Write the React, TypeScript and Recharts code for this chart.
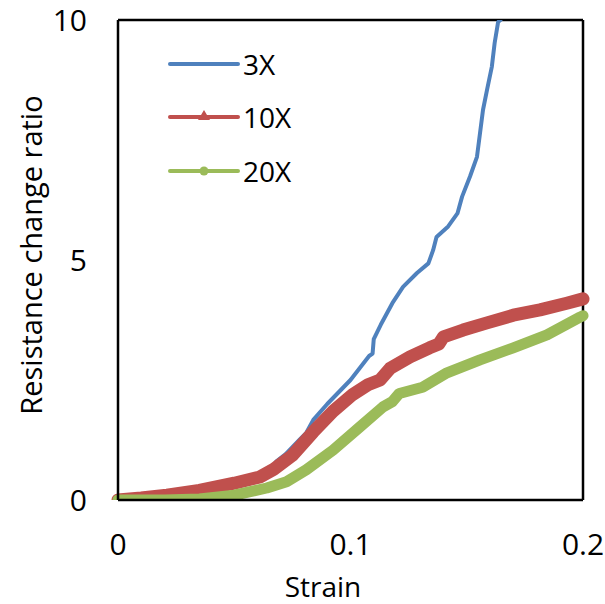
import React from 'react';
import { LineChart, Line, XAxis, YAxis, Legend, Label, ReferenceLine } from 'recharts';

// strain (x) and resistance change ratio (y) per sample
const strain3x = [0, 0.02, 0.04, 0.055, 0.065, 0.068, 0.072, 0.078, 0.081, 0.084, 0.09, 0.095, 0.1, 0.104, 0.108, 0.1095, 0.11, 0.113, 0.118, 0.1226, 0.1286, 0.1335, 0.1355, 0.137, 0.142, 0.146, 0.148, 0.1514, 0.1544, 0.1557, 0.157, 0.1587, 0.1608, 0.162, 0.1635, 0.1645];
const ratio3x = [0, 0.1, 0.25, 0.4, 0.6, 0.8, 0.95, 1.25, 1.4, 1.67, 2.0, 2.25, 2.5, 2.75, 3.0, 3.05, 3.35, 3.65, 4.1, 4.44, 4.73, 4.93, 5.2, 5.48, 5.7, 5.97, 6.32, 6.74, 7.15, 7.64, 8.13, 8.54, 9.03, 9.52, 9.96, 10.0];

const strain10x = [0, 0.01, 0.021, 0.035, 0.05, 0.061, 0.067, 0.075, 0.084, 0.0925, 0.101, 0.1075, 0.1127, 0.117, 0.1256, 0.134, 0.138, 0.14, 0.1484, 0.1587, 0.17, 0.1815, 0.193, 0.2];
const ratio10x = [0, 0.04, 0.1, 0.2, 0.35, 0.48, 0.64, 0.93, 1.42, 1.85, 2.2, 2.4, 2.5, 2.74, 2.98, 3.17, 3.25, 3.4, 3.54, 3.69, 3.85, 3.96, 4.1, 4.19];

const strain20x = [0, 0.02, 0.035, 0.05, 0.064, 0.0725, 0.081, 0.0925, 0.104, 0.114, 0.118, 0.121, 0.131, 0.1415, 0.1557, 0.17, 0.1845, 0.1987, 0.2];
const ratio20x = [0, 0.0, 0.02, 0.1, 0.25, 0.38, 0.63, 1.04, 1.52, 1.94, 2.05, 2.22, 2.35, 2.65, 2.92, 3.17, 3.44, 3.81, 3.84];

const xTicks = [0, 0.1, 0.2];
const yTicks = [0, 5, 10];

const series = [
  { name: '3X', x: strain3x, y: ratio3x, color: '#4F81BD', width: 4, marker: 'none' },
  { name: '10X', x: strain10x, y: ratio10x, color: '#C0504D', width: 13, marker: 'triangle' },
  { name: '20X', x: strain20x, y: ratio20x, color: '#9BBB59', width: 11, marker: 'circle' },
];

const toRows = (xs: number[], ys: number[]) => xs.map((x, i) => ({ x, y: ys[i] }));

const FONT = '"Open Sans", sans-serif';
const tickStyle = { fill: '#000', fontSize: 30, fontFamily: FONT };
const titleStyle = { fill: '#000', fontSize: 28, fontFamily: FONT };
const BORDER = { stroke: '#000', strokeWidth: 2.5 };

function LegendBox() {
  return (
    <div style={{ fontFamily: FONT, fontSize: 28, color: '#000' }}>
      {series.map((s) => (
        <div key={s.name} style={{ display: 'flex', alignItems: 'center', height: 53.5 }}>
          <svg width={74} height={20}>
            <line x1={3} y1={10} x2={71} y2={10} stroke={s.color} strokeWidth={4} strokeLinecap="round" />
            {s.marker === 'triangle' && <polygon points="37,3 43,13 31,13" fill={s.color} />}
            {s.marker === 'circle' && <circle cx={37} cy={10} r={4.5} fill={s.color} />}
          </svg>
          <span style={{ marginLeft: 2, lineHeight: 1 }}>{s.name}</span>
        </div>
      ))}
    </div>
  );
}

export default function App() {
  return (
    <div style={{ position: 'fixed', left: 0, top: 0, background: '#fff' }}>
      <LineChart width={605} height={604} margin={{ top: 20, right: 22, bottom: 0, left: 0 }}>
        <XAxis
          dataKey="x"
          type="number"
          domain={[0, 0.2]}
          ticks={xTicks}
          tickFormatter={(v) => String(v)}
          height={104}
          tickSize={0}
          tickMargin={34}
          tick={tickStyle}
          axisLine={BORDER}
          allowDuplicatedCategory={false}
        >
          <Label
            content={() => (
              <text x={323} y={597} textAnchor="middle" style={titleStyle}>
                Strain
              </text>
            )}
          />
        </XAxis>
        <YAxis
          type="number"
          domain={[0, 10]}
          ticks={yTicks}
          width={118}
          tickSize={0}
          tickMargin={31}
          tick={tickStyle}
          axisLine={BORDER}
          allowDataOverflow
        >
          <Label
            content={() => (
              <text
                x={30}
                y={255}
                transform="rotate(-90 30 255)"
                textAnchor="middle"
                dominantBaseline="central"
                style={{ ...titleStyle, fontSize: 29 }}
              >
                Resistance change ratio
              </text>
            )}
          />
        </YAxis>
        <ReferenceLine y={10} {...BORDER} ifOverflow="extendDomain" />
        <ReferenceLine x={0.2} {...BORDER} ifOverflow="extendDomain" />
        <Legend
          layout="vertical"
          align="center"
          verticalAlign="middle"
          content={() => <LegendBox />}
          wrapperStyle={{ position: 'absolute', left: 167, top: 37, width: 'auto', height: 'auto' }}
        />
        {series.map((s) => (
          <Line
            key={s.name}
            data={toRows(s.x, s.y)}
            dataKey="y"
            name={s.name}
            type="linear"
            stroke={s.color}
            strokeWidth={s.width}
            strokeLinejoin="round"
            strokeLinecap="round"
            dot={false}
            activeDot={false}
            isAnimationActive={false}
          />
        ))}
      </LineChart>
    </div>
  );
}
